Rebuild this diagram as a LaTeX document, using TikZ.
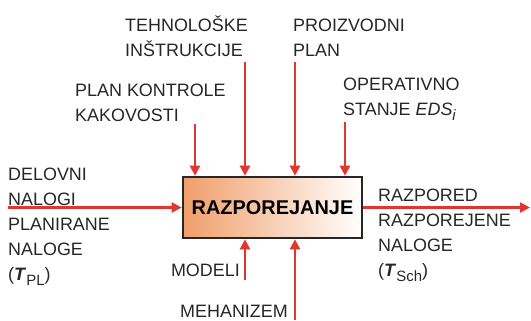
\documentclass[tikz,border=0pt]{standalone}
\usepackage{fontspec}
\setmainfont{Liberation Sans}
\usetikzlibrary{arrows.meta}

\definecolor{flowred}{RGB}{226,52,48}
\definecolor{boxorange}{RGB}{240,158,106}
\newcommand{\lowidx}[1]{\raisebox{-5bp}{\fontsize{15}{15}\selectfont #1}}

\begin{document}
\begin{tikzpicture}[
    x=1bp, y=-1bp,
    >={Triangle[length=10bp,width=10bp]},
    flow/.style={->, draw=flowred, line width=2.2bp},
    activity/.style={
        draw=black!85,
        line width=2.6bp,
        left color=boxorange,
        right color=white,
        minimum width=179bp,
        minimum height=61bp,
        inner sep=0pt,
        font=\fontsize{20}{24}\selectfont\bfseries
    },
    tag/.style={
        align=left,
        inner sep=0pt,
        text=black!85,
        font=\fontsize{18}{25}\selectfont
    }
]
\useasboundingbox (0,0) rectangle (531,320);

\node[activity] (act) at (272.5,207.5) {RAZPOREJANJE};

% controls from above
\coordinate (ctrl1) at (195,124);
\coordinate (ctrl2) at (245,62);
\coordinate (ctrl3) at (295,62);
\coordinate (ctrl4) at (345,122);
% input, output, mechanisms
\coordinate (in) at (8,207.5);
\coordinate (out) at (530,207.5);
\coordinate (mech1) at (245,280);
\coordinate (mech2) at (295,320);

\draw[flow] (ctrl1) -- (ctrl1 |- act.north);
\draw[flow] (ctrl2) -- (ctrl2 |- act.north);
\draw[flow] (ctrl3) -- (ctrl3 |- act.north);
\draw[flow] (ctrl4) -- (ctrl4 |- act.north);
\draw[flow] (in) -- (act.west);
\draw[flow] (act.east) -- (out);
\draw[flow] (mech1) -- (mech1 |- act.south);
\draw[flow] (mech2) -- (mech2 |- act.south);

% labels, placed on the baseline of their last line
\node[tag, anchor=base west] (inlbl) at (8,280)
  {DELOVNI\\NALOGI\\PLANIRANE\\NALOGE\\(\textbf{\textit{T}}\lowidx{PL})};
\node[tag, anchor=base west] (outlbl) at (378,276.5)
  {RAZPORED\\RAZPOREJENE\\NALOGE\\(\textbf{\textit{T}}\lowidx{Sch})};
\node[tag, anchor=base west] (ctrl2lbl) at (125,56.5) {TEHNOLOŠKE\\INŠTRUKCIJE};
\node[tag, anchor=base west] (ctrl3lbl) at (293,56.5) {PROIZVODNI\\PLAN};
\node[tag, anchor=base west] (ctrl1lbl) at (75,121.5) {PLAN KONTROLE\\KAKOVOSTI};
\node[tag, anchor=base west] (ctrl4lbl) at (343,115.5)
  {OPERATIVNO\\STANJE \textit{EDS}\lowidx{\textit{i}}};
\node[tag, anchor=base east] (mech1lbl) at (240,276.5) {MODELI};
\node[tag, anchor=base west] (mech2lbl) at (180,317) {MEHANIZEM};

\end{tikzpicture}
\end{document}
